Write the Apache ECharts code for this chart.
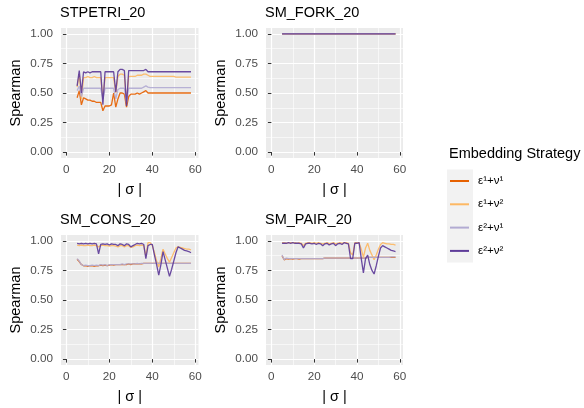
<!DOCTYPE html>
<html>
<head>
<meta charset="utf-8">
<script src="https://cdn.jsdelivr.net/npm/echarts@6/dist/echarts.min.js"></script>
<style>
  html, body { margin: 0; padding: 0; background: #fff; }
  #chart { width: 584px; height: 408px; }
</style>
</head>
<body>
<div id="chart"></div>
<script>
// |σ| values shared by every panel
const sigma = [5,6,7,8,9,10,11,12,13,14,15,16,17,18,19,20,21,22,23,24,25,26,27,28,29,30,31,32,33,34,35,36,37,38,39,40,41,42,43,44,45,46,47,48,49,50,51,52,53,54,55,56,57,58];

const strategies = ['ε¹+ν¹', 'ε¹+ν²', 'ε²+ν¹', 'ε²+ν²'];
const panelTitles = ['STPETRI_20', 'SM_FORK_20', 'SM_CONS_20', 'SM_PAIR_20'];
const xTicks = [0, 20, 40, 60];
const xMinor = [10, 30, 50];
const yTicks = [0, 0.25, 0.5, 0.75, 1];
const yMinor = [0.125, 0.375, 0.625, 0.875];

// STPETRI_20
const stpetriE1V1 = [0.46,0.52,0.40,0.46,0.45,0.44,0.44,0.43,0.43,0.42, 0.42,0.42,0.35,0.39,0.39,0.39,0.40,0.50,0.38,0.45, 0.50,0.50,0.49,0.38,0.47,0.49,0.49,0.49,0.50,0.49, 0.50,0.51,0.52,0.50,0.50,0.50,0.50,0.50,0.50,0.50, 0.50,0.50,0.50,0.50,0.50,0.50,0.50,0.50,0.50,0.50, 0.50,0.50,0.50,0.50];
const stpetriE1V2 = [0.55,0.66,0.45,0.63,0.63,0.64,0.63,0.63,0.64,0.63, 0.63,0.63,0.45,0.63,0.63,0.63,0.63,0.63,0.50,0.64, 0.66,0.66,0.65,0.42,0.64,0.64,0.64,0.64,0.65,0.65, 0.65,0.66,0.66,0.65,0.64,0.64,0.64,0.64,0.64,0.64, 0.64,0.64,0.64,0.64,0.64,0.64,0.635,0.635,0.635,0.635, 0.635,0.635,0.635,0.635];
const stpetriE2V1 = [0.52,0.56,0.47,0.54,0.54,0.54,0.54,0.54,0.54,0.54, 0.54,0.54,0.45,0.54,0.54,0.54,0.54,0.54,0.45,0.53, 0.54,0.54,0.54,0.42,0.54,0.54,0.54,0.54,0.54,0.54, 0.54,0.55,0.56,0.55,0.545,0.545,0.545,0.545,0.545,0.545, 0.545,0.545,0.545,0.545,0.545,0.545,0.545,0.545,0.545,0.545, 0.545,0.545,0.545,0.545];
const stpetriE2V2 = [0.56,0.69,0.50,0.68,0.67,0.68,0.67,0.68,0.68,0.68, 0.68,0.68,0.40,0.68,0.68,0.68,0.68,0.68,0.51,0.68, 0.70,0.70,0.69,0.39,0.69,0.69,0.69,0.69,0.69,0.69, 0.69,0.69,0.70,0.68,0.68,0.68,0.68,0.68,0.68,0.68, 0.68,0.68,0.68,0.68,0.68,0.68,0.68,0.68,0.68,0.68, 0.68,0.68,0.68,0.68];

// SM_FORK_20 (all strategies at 1)
const forkE1V1 = [1,1,1,1,1,1,1,1,1,1, 1,1,1,1,1,1,1,1,1,1, 1,1,1,1,1,1,1,1,1,1, 1,1,1,1,1,1,1,1,1,1, 1,1,1,1,1,1,1,1,1,1, 1,1,1,1];
const forkE1V2 = [1,1,1,1,1,1,1,1,1,1, 1,1,1,1,1,1,1,1,1,1, 1,1,1,1,1,1,1,1,1,1, 1,1,1,1,1,1,1,1,1,1, 1,1,1,1,1,1,1,1,1,1, 1,1,1,1];
const forkE2V1 = [1,1,1,1,1,1,1,1,1,1, 1,1,1,1,1,1,1,1,1,1, 1,1,1,1,1,1,1,1,1,1, 1,1,1,1,1,1,1,1,1,1, 1,1,1,1,1,1,1,1,1,1, 1,1,1,1];
const forkE2V2 = [1,1,1,1,1,1,1,1,1,1, 1,1,1,1,1,1,1,1,1,1, 1,1,1,1,1,1,1,1,1,1, 1,1,1,1,1,1,1,1,1,1, 1,1,1,1,1,1,1,1,1,1, 1,1,1,1];

// SM_CONS_20
const consE1V1 = [0.845,0.825,0.80,0.79,0.79,0.785,0.79,0.79,0.785,0.79, 0.79,0.795,0.79,0.795,0.79,0.795,0.80,0.795,0.80,0.80, 0.80,0.80,0.80,0.80,0.805,0.80,0.805,0.805,0.805,0.805, 0.805,0.81,0.81,0.81,0.81,0.81,0.81,0.81,0.81,0.81, 0.81,0.81,0.81,0.81,0.81,0.81,0.81,0.81,0.81,0.81, 0.81,0.81,0.81,0.81];
const consE1V2 = [0.965,0.96,0.965,0.96,0.96,0.965,0.96,0.96,0.965,0.96, 0.95,0.96,0.965,0.96,0.96,0.955,0.96,0.96,0.955,0.95, 0.96,0.96,0.95,0.96,0.96,0.945,0.95,0.96,0.965,0.96, 0.965,0.96,0.87,0.985,0.985,0.96,0.90,0.83,0.78,0.85, 0.93,0.89,0.85,0.82,0.86,0.90,0.94,0.95,0.945,0.94, 0.935,0.93,0.93,0.925];
const consE2V1 = [0.85,0.83,0.80,0.79,0.795,0.79,0.79,0.795,0.79,0.795, 0.79,0.80,0.795,0.80,0.79,0.80,0.80,0.80,0.80,0.80, 0.80,0.805,0.80,0.805,0.805,0.805,0.805,0.805,0.81,0.805, 0.81,0.81,0.81,0.81,0.81,0.81,0.81,0.81,0.81,0.81, 0.81,0.81,0.81,0.81,0.81,0.81,0.81,0.81,0.81,0.81, 0.81,0.81,0.81,0.81];
const consE2V2 = [0.98,0.975,0.98,0.975,0.98,0.975,0.98,0.975,0.98,0.975, 0.89,0.97,0.975,0.97,0.975,0.965,0.975,0.97,0.97,0.96, 0.975,0.97,0.96,0.975,0.97,0.95,0.96,0.97,0.98,0.975, 0.98,0.97,0.85,0.96,0.97,0.97,0.88,0.80,0.71,0.80, 0.91,0.84,0.77,0.70,0.76,0.83,0.90,0.95,0.94,0.93, 0.92,0.915,0.91,0.90];

// SM_PAIR_20
const pairE1V1 = [0.875,0.84,0.85,0.845,0.85,0.845,0.85,0.85,0.845,0.85, 0.85,0.85,0.85,0.85,0.85,0.85,0.85,0.85,0.85,0.85, 0.855,0.855,0.855,0.855,0.855,0.855,0.855,0.855,0.855,0.855, 0.855,0.855,0.855,0.855,0.855,0.855,0.855,0.855,0.855,0.855, 0.86,0.86,0.86,0.86,0.86,0.86,0.86,0.86,0.86,0.86, 0.86,0.86,0.86,0.86];
const pairE1V2 = [0.985,0.985,0.98,0.985,0.985,0.985,0.985,0.98,0.985,0.98, 0.96,0.98,0.985,0.985,0.98,0.985,0.98,0.985,0.98,0.975, 0.98,0.985,0.975,0.98,0.985,0.975,0.98,0.985,0.98,0.985, 0.985,0.98,0.90,0.88,0.985,0.985,0.985,0.93,0.86,0.94, 0.98,0.92,0.88,0.84,0.88,0.93,0.97,0.985,0.98,0.975, 0.975,0.97,0.97,0.965];
const pairE2V1 = [0.88,0.84,0.855,0.85,0.85,0.85,0.85,0.85,0.85,0.85, 0.85,0.85,0.85,0.85,0.85,0.85,0.85,0.85,0.85,0.85, 0.855,0.855,0.855,0.855,0.855,0.855,0.855,0.855,0.855,0.855, 0.855,0.855,0.855,0.855,0.855,0.855,0.855,0.855,0.855,0.855, 0.86,0.86,0.86,0.86,0.86,0.86,0.86,0.86,0.86,0.86, 0.86,0.865,0.865,0.865];
const pairE2V2 = [0.98,0.98,0.98,0.985,0.98,0.985,0.98,0.98,0.98,0.975, 0.94,0.975,0.98,0.98,0.975,0.98,0.97,0.98,0.975,0.96, 0.975,0.98,0.965,0.975,0.98,0.96,0.975,0.98,0.97,0.985, 0.98,0.975,0.85,0.85,0.98,0.98,0.985,0.85,0.73,0.85, 0.88,0.80,0.75,0.72,0.79,0.87,0.94,0.96,0.95,0.94, 0.93,0.92,0.915,0.91];

const panelData = [
  [stpetriE1V1, stpetriE1V2, stpetriE2V1, stpetriE2V2],
  [forkE1V1, forkE1V2, forkE2V1, forkE2V2],
  [consE1V1, consE1V2, consE2V1, consE2V2],
  [pairE1V1, pairE1V2, pairE2V1, pairE2V2]
];

const colors = ['#E66101', '#FDB863', '#B2ABD2', '#5E3C99'];
const font = 'Liberation Sans, Arial, sans-serif';

const grids = [
  { left: 61, top: 28, width: 137.5, height: 130 },
  { left: 266, top: 28, width: 137, height: 130 },
  { left: 61, top: 235, width: 137.5, height: 130 },
  { left: 266, top: 235, width: 137, height: 130 }
];

const xAxes = [];
const yAxes = [];
const series = [];
const titles = [];

grids.forEach(function (g, i) {
  g.show = true;
  g.backgroundColor = '#EBEBEB';
  g.borderWidth = 0;
  g.containLabel = false;

  titles.push({
    text: panelTitles[i],
    left: g.left - 1,
    top: g.top - 23,
    padding: 0,
    textStyle: { fontFamily: font, fontSize: 14.5, fontWeight: 'normal', color: '#000' }
  });

  // major x axis
  xAxes.push({
    type: 'value', gridIndex: i, min: -2.5, max: 61.5,
    name: '| σ |', nameLocation: 'middle', nameGap: 24,
    nameTextStyle: { fontFamily: font, fontSize: 14.5, color: '#000' },
    axisLine: { show: false },
    axisTick: { show: true, customValues: xTicks, length: 3.5, lineStyle: { color: '#333', width: 1 } },
    axisLabel: { customValues: xTicks, margin: 6, fontFamily: font, fontSize: 11.7, color: '#4D4D4D' },
    splitLine: { show: true, lineStyle: { color: '#fff', width: 1.2 } }
  });
  // minor x grid lines
  xAxes.push({
    type: 'value', gridIndex: i, min: -2.5, max: 61.5,
    axisLine: { show: false },
    axisTick: { show: false, customValues: xMinor },
    axisLabel: { show: false, customValues: xMinor },
    splitLine: { show: true, lineStyle: { color: '#fff', width: 0.6 } }
  });
  // major y axis
  yAxes.push({
    type: 'value', gridIndex: i, min: -0.05, max: 1.05, position: 'left',
    name: 'Spearman', nameLocation: 'middle', nameGap: 38,
    nameTextStyle: { fontFamily: font, fontSize: 14.5, color: '#000' },
    axisLine: { show: false },
    axisTick: { show: true, customValues: yTicks, length: 3.5, lineStyle: { color: '#333', width: 1 } },
    axisLabel: {
      customValues: yTicks, margin: 8, fontFamily: font, fontSize: 11.7, color: '#4D4D4D',
      formatter: function (v) { return v.toFixed(2); }
    },
    splitLine: { show: true, lineStyle: { color: '#fff', width: 1.2 } }
  });
  // minor y grid lines
  yAxes.push({
    type: 'value', gridIndex: i, min: -0.05, max: 1.05, position: 'left',
    axisLine: { show: false },
    axisTick: { show: false, customValues: yMinor },
    axisLabel: { show: false, customValues: yMinor },
    splitLine: { show: true, lineStyle: { color: '#fff', width: 0.6 } }
  });

  panelData[i].forEach(function (vals, k) {
    series.push({
      name: strategies[k],
      type: 'line',
      xAxisIndex: i * 2,
      yAxisIndex: i * 2,
      data: sigma.map(function (s, j) { return [s, vals[j]]; }),
      showSymbol: false,
      symbol: 'none',
      color: colors[k],
      lineStyle: { width: 1.3, color: colors[k], opacity: 0.92 },
      z: 3 + k
    });
  });
});

titles.push({
  text: 'Embedding Strategy',
  left: 449, top: 146, padding: 0,
  textStyle: { fontFamily: font, fontSize: 14.5, fontWeight: 'normal', color: '#000' }
});

const chart = echarts.init(document.getElementById('chart'), null, { renderer: 'canvas' });
chart.setOption({
  animation: false,
  backgroundColor: '#fff',
  title: titles,
  grid: grids,
  xAxis: xAxes,
  yAxis: yAxes,
  legend: {
    data: strategies,
    orient: 'vertical',
    left: 450, top: 174,
    padding: 0,
    icon: 'rect',
    itemWidth: 19, itemHeight: 2,
    itemGap: 9.3,
    textStyle: { fontFamily: font, fontSize: 11.5, color: '#000', lineHeight: 14, padding: [0, 0, 0, 4] }
  },
  graphic: [{
    type: 'rect', left: 447, top: 169.5, z: -10,
    shape: { width: 26, height: 93 },
    style: { fill: '#F2F2F2' }
  }],
  series: series
});
</script>
</body>
</html>
